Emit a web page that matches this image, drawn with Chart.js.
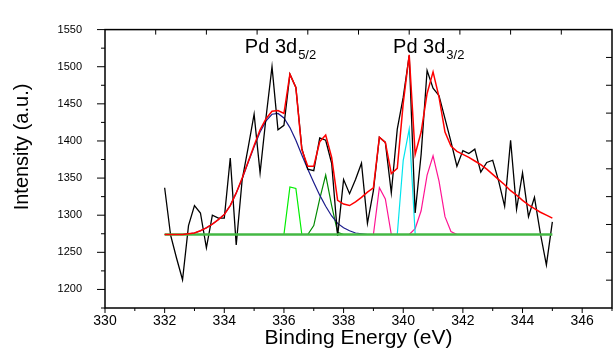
<!DOCTYPE html>
<html lang="en">
  <head>
    <meta charset="UTF-8" />
    <title>Pd 3d XPS spectrum</title>
    <script src="https://cdn.jsdelivr.net/npm/chart.js"></script>
    <style>
      body { margin: 0; background: #fff; }
    </style>
  </head>
  <body>
    <canvas id="xps" width="616" height="356"></canvas>

    <script>
      // binding energy grid (eV), 0.2 eV steps
      const energy = [
        332, 332.2, 332.4, 332.6, 332.8, 333, 333.2, 333.4, 333.6, 333.8,
        334, 334.2, 334.4, 334.6, 334.8, 335, 335.2, 335.4, 335.6, 335.8,
        336, 336.2, 336.4, 336.6, 336.8, 337, 337.2, 337.4, 337.6, 337.8,
        338, 338.2, 338.4, 338.6, 338.8, 339, 339.2, 339.4, 339.6, 339.8,
        340, 340.2, 340.4, 340.6, 340.8, 341, 341.2, 341.4, 341.6, 341.8,
        342, 342.2, 342.4, 342.6, 342.8, 343, 343.2, 343.4, 343.6, 343.8,
        344, 344.2, 344.4, 344.6, 344.8, 345,
      ];
      // measured counts
      const raw = [
        1337, 1273, 1242, 1213, 1286, 1313, 1303, 1256, 1300, 1296,
        1296, 1377, 1260, 1348, 1391, 1436, 1357, 1432, 1500, 1415,
        1421, 1490, 1472, 1390, 1362, 1360, 1404, 1401, 1370, 1272,
        1348, 1329, 1348, 1370, 1289, 1333, 1405, 1398, 1330, 1416,
        1459, 1515, 1303, 1382, 1495, 1471, 1461, 1430, 1399, 1366,
        1387, 1383, 1389, 1358, 1371, 1374, 1346, 1312, 1401, 1308,
        1357, 1298, 1324, 1275, 1233, 1291,
      ];
      // fitted envelope
      const envelope = [
        1274, 1274, 1274, 1274, 1275, 1276, 1279, 1283, 1288, 1294,
        1301, 1313, 1330, 1350, 1372, 1394, 1415, 1430, 1440, 1441,
        1437, 1490, 1472, 1388, 1366, 1366, 1399, 1408, 1378, 1320,
        1315, 1313, 1318, 1324, 1331, 1337, 1405, 1398, 1356, 1363,
        1451, 1516, 1382, 1412, 1464, 1493, 1459, 1412, 1393, 1386,
        1382, 1378, 1373, 1368, 1362, 1355, 1348, 1341, 1333, 1327,
        1320, 1314, 1309, 1304, 1300, 1296,
      ];
      // broad component, 332 - 339 eV
      const broad = [
        1274, 1274, 1274, 1274, 1275, 1276, 1279, 1283, 1288, 1294,
        1301, 1313, 1330, 1349, 1371, 1392, 1412, 1427, 1436, 1437,
        1431, 1418, 1401, 1381, 1362, 1344, 1327, 1312, 1299, 1289,
        1283, 1279, 1276, 1275, 1274, 1274,
      ];
      // narrow components
      const limeE = [336, 336.2, 336.4, 336.6];
      const limeI = [1274, 1338, 1336, 1274];
      const greenE = [336.8, 337, 337.2, 337.4, 337.6, 337.8, 338];
      const greenI = [1274, 1286, 1322, 1354, 1313, 1277, 1274];
      const pinkAE = [339, 339.2, 339.4, 339.6];
      const pinkAI = [1274, 1337, 1322, 1274];
      const cyanE = [339.8, 340, 340.2, 340.4];
      const cyanI = [1274, 1374, 1416, 1275];
      const pinkBE = [340.2, 340.4, 340.6, 340.8, 341, 341.2, 341.4, 341.6, 341.8];
      const pinkBI = [1274, 1282, 1306, 1354, 1380, 1346, 1298, 1278, 1274];
      const baseE = [332, 345];
      const baseI = [1274, 1274];

      const xTicks = [330, 332, 334, 336, 338, 340, 342, 344, 346];
      const yTicks = [1200, 1250, 1300, 1350, 1400, 1450, 1500, 1550];

      const FONT = "'Liberation Sans', Arial, sans-serif";

      function pts(xs, ys) {
        return xs.map((x, i) => ({ x: x, y: ys[i] }));
      }

      function line(data, color, width) {
        return {
          data: data,
          borderColor: color,
          borderWidth: width,
          pointRadius: 0,
          tension: 0,
          fill: false,
        };
      }

      // frame, minor ticks, peak labels and y title
      const decor = {
        id: "decor",
        afterDraw(chart) {
          const { ctx, chartArea: a, scales } = chart;
          const x = scales.x;
          const y = scales.y;
          ctx.save();
          ctx.strokeStyle = "#000";
          ctx.lineWidth = 1.5;
          ctx.strokeRect(a.left, a.top, a.right - a.left, a.bottom - a.top);

          ctx.lineWidth = 1;
          ctx.beginPath();
          for (let v = 330; v <= 347; v++) {
            const px = x.getPixelForValue(v);
            ctx.moveTo(px, a.bottom);
            ctx.lineTo(px, a.bottom + (v % 2 ? 3 : 5));
          }
          for (let v = 1175; v <= 1550; v += 25) {
            const py = y.getPixelForValue(v);
            ctx.moveTo(a.left - (v % 50 ? 4 : 8), py);
            ctx.lineTo(a.left, py);
          }
          for (let i = 1; i < 10; i++) {
            const px = a.left + ((a.right - a.left) * i) / 10;
            ctx.moveTo(px, a.top);
            ctx.lineTo(px, a.top + 5);
            const py = a.top + ((a.bottom - a.top) * i) / 10;
            ctx.moveTo(a.right, py);
            ctx.lineTo(a.right - 6, py);
          }
          ctx.stroke();

          ctx.fillStyle = "#000";
          ctx.textBaseline = "alphabetic";
          const label = (e, sub) => {
            const px = x.getPixelForValue(e);
            const py = y.getPixelForValue(1518);
            ctx.font = "20px " + FONT;
            ctx.fillText("Pd 3d", px, py);
            const w = ctx.measureText("Pd 3d").width;
            ctx.font = "13px " + FONT;
            ctx.fillText(sub, px + w + 1, py + 6);
          };
          label(334.69, "5/2");
          label(339.66, "3/2");

          ctx.translate(22, 147);
          ctx.rotate(-Math.PI / 2);
          ctx.font = "20px " + FONT;
          ctx.textAlign = "center";
          ctx.textBaseline = "middle";
          ctx.fillText("Intensity (a.u.)", 0, 0);
          ctx.restore();
        },
      };

      new Chart(document.getElementById("xps"), {
        type: "line",
        data: {
          datasets: [
            line(pts(energy, envelope), "#ff0000", 1.5),
            line(pts(baseE, baseI), "#44b844", 2.5),
            line(pts(energy, raw), "#000000", 1.3),
            line(pts(energy.slice(0, broad.length), broad), "#1c1c8c", 1.2),
            line(pts(limeE, limeI), "#00ee00", 1.2),
            line(pts(greenE, greenI), "#008a00", 1.2),
            line(pts(pinkAE, pinkAI), "#ff1493", 1.2),
            line(pts(cyanE, cyanI), "#00e5ee", 1.2),
            line(pts(pinkBE, pinkBI), "#ff1493", 1.2),
          ],
        },
        options: {
          responsive: false,
          animation: false,
          layout: { padding: { left: 0, right: 4, top: 16, bottom: 0 } },
          plugins: { legend: { display: false }, tooltip: { enabled: false } },
          scales: {
            x: {
              type: "linear",
              min: 330,
              max: 347,
              afterBuildTicks: (s) => { s.ticks = xTicks.map((v) => ({ value: v })); },
              afterFit: (s) => { s.height = 48; },
              grid: { display: false, drawTicks: false },
              border: { display: false },
              ticks: {
                color: "#000",
                padding: 5,
                maxRotation: 0,
                callback: (v) => String(v),
                font: { family: FONT, size: 14 },
              },
              title: {
                display: true,
                text: "Binding Energy (eV)",
                color: "#000",
                padding: { top: 0, bottom: 5 },
                font: { family: FONT, size: 21 },
              },
            },
            y: {
              min: 1175,
              max: 1550,
              afterBuildTicks: (s) => { s.ticks = yTicks.map((v) => ({ value: v })); },
              afterFit: (s) => { s.width = 105; },
              grid: { display: false, drawTicks: false },
              border: { display: false },
              ticks: {
                color: "#000",
                padding: 23,
                callback: (v) => String(v),
                font: { family: FONT, size: 11 },
              },
            },
          },
        },
        plugins: [decor],
      });
    </script>
  </body>
</html>
